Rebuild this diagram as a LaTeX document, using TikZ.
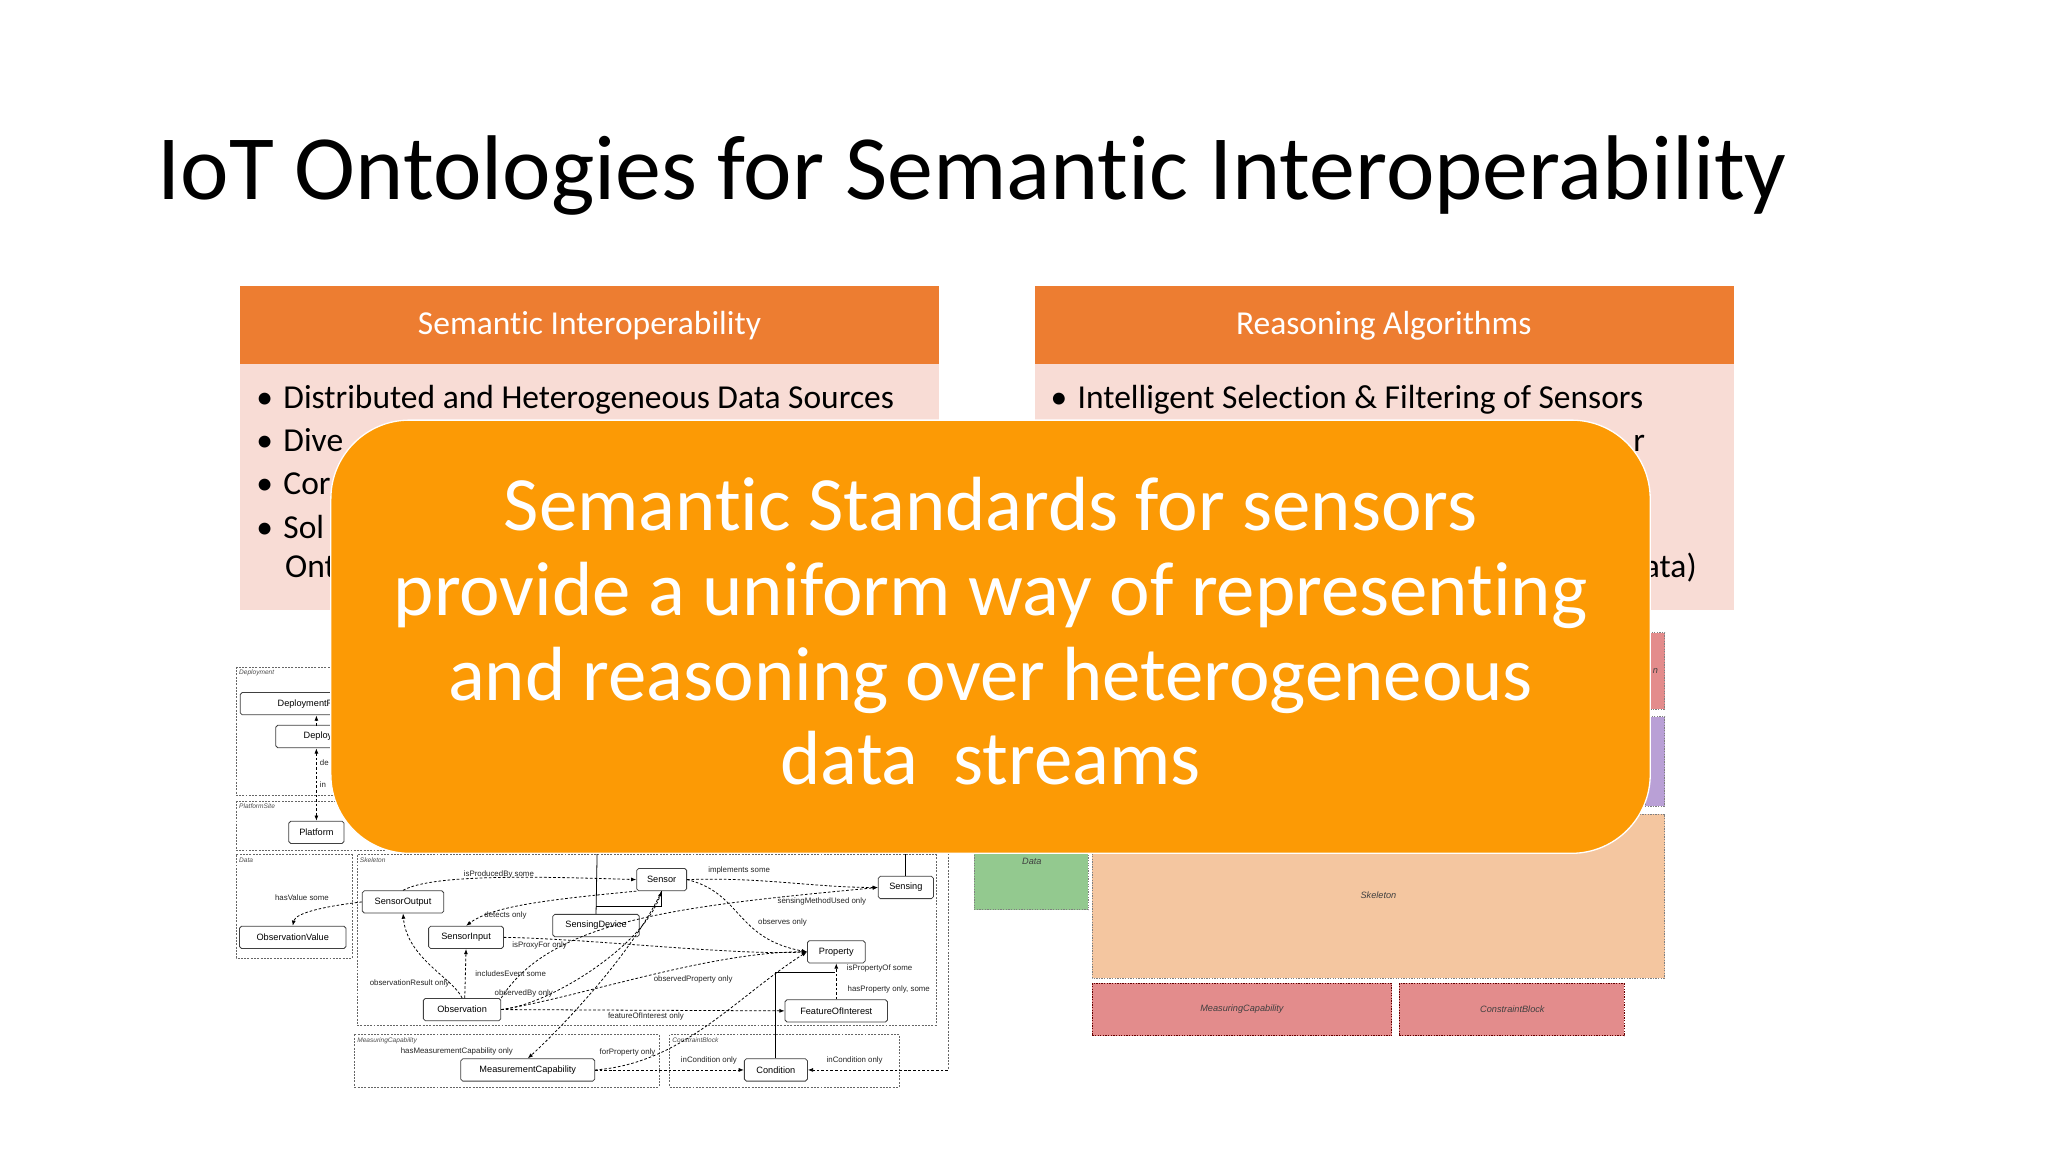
\documentclass[tikz,border=0pt]{standalone}
\usepackage{fontspec}
\setmainfont{Carlito}[Ligatures=NoCommon]
\newfontfamily\dfont{Liberation Sans}
\usetikzlibrary{arrows.meta}
\definecolor{hdr}{HTML}{ED7D31}
\definecolor{bodyc}{HTML}{F8DCD5}
\definecolor{ovl}{HTML}{FC9A05}
\definecolor{grn}{HTML}{93C98F}
\definecolor{skel}{HTML}{F4C6A0}
\definecolor{redb}{HTML}{E38C8C}
\definecolor{purb}{HTML}{B9A0D6}
\tikzset{
  dnode/.style={draw=black!75,fill=white,rounded corners=1.5pt,minimum height=17pt,inner sep=1pt,font=\dfont\fontsize{7}{8}\selectfont,line width=0.6pt},
  grp/.style={draw=black!60,dashed,dash pattern=on 1.5pt off 1pt,line width=0.5pt},
  glab/.style={font=\dfont\itshape\fontsize{5}{6}\selectfont,anchor=north west,inner sep=1pt,text=black!70},
  elab/.style={font=\dfont\fontsize{6}{7}\selectfont,inner sep=0.5pt,text=black!85},
  rel/.style={dashed,dash pattern=on 2pt off 1.5pt,line width=0.6pt,-{Latex[length=4pt,width=3pt]}},
  solid line/.style={line width=0.6pt},
  bul/.style={font=\fontsize{25.5}{28}\selectfont,anchor=base west,inner sep=0pt},
  hdrtext/.style={font=\fontsize{25.5}{28}\selectfont,text=white},
  cblock/.style={draw=black!50,dashed,dash pattern=on 1pt off 1pt,line width=0.5pt},
  clab/.style={font=\dfont\itshape\fontsize{7}{8}\selectfont,text=black!75}
}
\begin{document}
\begin{tikzpicture}[x=1pt,y=-1pt]
\useasboundingbox (0,0) rectangle (1560,877.5);
\fill[white] (0,0) rectangle (1560,877.5);
% title
\node[anchor=base west,inner sep=0pt,font=\fontsize{70}{80}\selectfont] (title) at (120,152) {IoT Ontologies for Semantic Interoperability};
% left panel
\fill[bodyc] (183,277) rectangle (715,465);
\fill[hdr] (183,218) rectangle (715,277);
\node[hdrtext] (lh) at (449,248) {Semantic Interoperability};
\node[bul] (lb1) at (195,311) {\textbullet\hspace{8pt}Distributed and Heterogeneous Data Sources};
\node[bul] (lb2) at (195,344) {\textbullet\hspace{8pt}Dive};
\node[bul] (lb3) at (195,377) {\textbullet\hspace{8pt}Cor};
\node[bul] (lb4) at (195,410) {\textbullet\hspace{8pt}Sol};
\node[bul] (lb5) at (217,440) {Ont};
% right panel
\fill[bodyc] (788,277) rectangle (1321,465);
\fill[hdr] (788,218) rectangle (1321,277);
\node[hdrtext] (rh) at (1054,248) {Reasoning Algorithms};
\node[bul] (rb1) at (800,311) {\textbullet\hspace{8pt}Intelligent Selection \& Filtering of Sensors};
\node[bul] (rb2) at (1244,344) {r};
\node[bul] (rb5) at (1252,440) {ata)};
% right colored diagram
\fill[redb] (1253,482) rectangle (1268,540); \draw[cblock] (1253,482) rectangle (1268,540);
\node[clab] (rn) at (1261,511) {n};
\fill[purb] (1253,546) rectangle (1268,614); \draw[cblock] (1253,546) rectangle (1268,614);
\fill[grn] (742,615) rectangle (829,693); \draw[cblock] (742,615) rectangle (829,693);
\node[clab] (cdata) at (786,656) {Data};
\fill[skel] (832,620) rectangle (1268,745); \draw[cblock] (832,620) rectangle (1268,745);
\node[clab] (cskel) at (1050,682) {Skeleton};
\fill[redb] (832,749) rectangle (1060,789); \draw[cblock,draw=red!40!black] (832,749) rectangle (1060,789);
\node[clab] (cmc) at (946,769) {MeasuringCapability};
\fill[redb] (1066,749) rectangle (1237,789); \draw[cblock,draw=red!40!black] (1066,749) rectangle (1237,789);
\node[clab] (ccb) at (1152,769) {ConstraintBlock};
% left ontology diagram groups
\draw[grp] (180,508) rectangle (300,606); \node[glab] (gd) at (181,509) {Deployment};
\draw[grp] (180,610) rectangle (300,648); \node[glab] (gp) at (181,611) {PlatformSite};
\draw[grp] (180,651) rectangle (268,730); \node[glab] (gda) at (181,652) {Data};
\draw[grp] (272,651) rectangle (713,781); \node[glab] (gs) at (273,652) {Skeleton};
\draw[grp] (270,788) rectangle (502,828); \node[glab] (gm) at (271,789) {MeasuringCapability};
\draw[grp] (510,788) rectangle (685,828); \node[glab] (gc) at (511,789) {ConstraintBlock};
\coordinate (otr) at (722,640);
\coordinate (obr) at (722,815);
\draw[grp] (otr) -- (obr);
% nodes
\node[dnode,minimum width=120pt] (drel) at (243,536) {DeploymentRelation};
\node[dnode,minimum width=80pt] (dep) at (250,561) {Deployment};
\node[dnode,minimum width=42pt] (plat) at (241,634) {Platform};
\node[dnode,minimum width=81pt] (ov) at (223,714) {ObservationValue};
\node[dnode,minimum width=62pt] (so) at (307,687) {SensorOutput};
\node[dnode,minimum width=38pt] (sen) at (504,670) {Sensor};
\node[dnode,minimum width=42pt] (sing) at (690,676) {Sensing};
\node[dnode,minimum width=66pt] (sd) at (454,705) {SensingDevice};
\node[dnode,minimum width=57pt] (si) at (355,714) {SensorInput};
\node[dnode,minimum width=44pt] (prop) at (637,725) {Property};
\node[dnode,minimum width=59pt] (obs) at (352,769) {Observation};
\node[dnode,minimum width=78pt] (foi) at (637,770) {FeatureOfInterest};
\node[dnode,minimum width=102pt] (mc) at (402,815) {MeasurementCapability};
\node[dnode,minimum width=48pt] (cond) at (591,815) {Condition};
% solid lines
\coordinate (sdtop) at (455,640);
\coordinate (singtop) at (690,640);
\coordinate (pjoin) at (636,741);
\draw[solid line] (sdtop) -- (sd.north);
\draw[solid line] (sd.north) ++(0,-6) -| (sen.south);
\draw[solid line] (singtop) -- (sing.north);
\draw[solid line] (cond.north) |- (pjoin);
% deployment arrows
\draw[rel] (241,553) -- (241,545);
\draw[rel,{Latex[length=4pt,width=3pt]}-{Latex[length=4pt,width=3pt]}] (241,570) -- (plat.north);
\node[elab,anchor=west] (lde) at (243,581) {de};
\node[elab,anchor=west] (lin) at (243,598) {in};
% relations
\draw[rel] (so.north) .. controls (330,665) and (420,668) .. (sen.west);
\node[elab] (l1) at (380,666) {isProducedBy some};
\draw[rel] (sen.east) .. controls (580,668) and (620,676) .. (sing.west);
\node[elab] (l2) at (563,663) {implements some};
\draw[rel] (obs.north east) .. controls (420,700) and (520,690) .. (sing.west);
\node[elab] (l3) at (626,687) {sensingMethodUsed only};
\draw[rel] (sen.south west) .. controls (420,685) and (375,690) .. (si.north);
\node[elab] (l4) at (385,697) {detects only};
\draw[rel] (sen.east) .. controls (565,680) and (560,715) .. (prop.west);
\node[elab] (l5) at (596,703) {observes only};
\draw[rel] (si.east) .. controls (450,715) and (560,728) .. (prop.west);
\node[elab] (l6) at (411,720) {isProxyFor only};
\draw[rel] (obs.north) .. controls (345,745) and (310,730) .. (so.south);
\node[elab] (l7) at (312,749) {observationResult only};
\draw[rel] (obs.north) ++(2,0) -- (si.south);
\node[elab] (l8) at (389,742) {includesEvent some};
\draw[rel] (obs.east) .. controls (420,765) and (490,720) .. (sen.south);
\node[elab] (l9) at (399,757) {observedBy only};
\draw[rel] (obs.east) .. controls (440,760) and (540,725) .. (prop.west);
\node[elab] (l10) at (528,746) {observedProperty only};
\draw[rel] (obs.east) -- (foi.west);
\node[elab] (l11) at (492,774) {featureOfInterest only};
\draw[rel] (foi.north) -- (prop.south);
\node[elab] (l12) at (670,738) {isPropertyOf some};
\node[elab] (l13) at (677,754) {hasProperty only, some};
\draw[rel] (so.west) .. controls (250,690) and (225,695) .. (ov.north);
\node[elab] (l14) at (230,684) {hasValue some};
\draw[rel] (sen.south) .. controls (480,730) and (420,790) .. (mc.north);
\node[elab] (l15) at (348,801) {hasMeasurementCapability only};
\draw[rel] (mc.east) .. controls (520,810) and (560,760) .. (prop.west);
\node[elab] (l16) at (478,802) {forProperty only};
\draw[rel] (mc.east) -- (cond.west);
\node[elab] (l17) at (540,808) {inCondition only};
\draw[rel] (obr) -- (cond.east);
\node[elab] (l18) at (651,808) {inCondition only};
% overlay
\node[draw=white,line width=1pt,fill=ovl,rounded corners=60pt,minimum width=1005pt,minimum height=330pt,inner sep=0pt] (ovb) at (754.5,485) {};
\node[font=\fontsize{58.5}{64.5}\selectfont,text=white,align=center] (ovt) at (754.5,481) {Semantic Standards for sensors\\provide a uniform way of representing\\and reasoning over heterogeneous\\data\ \ streams};
\end{tikzpicture}
\end{document}
